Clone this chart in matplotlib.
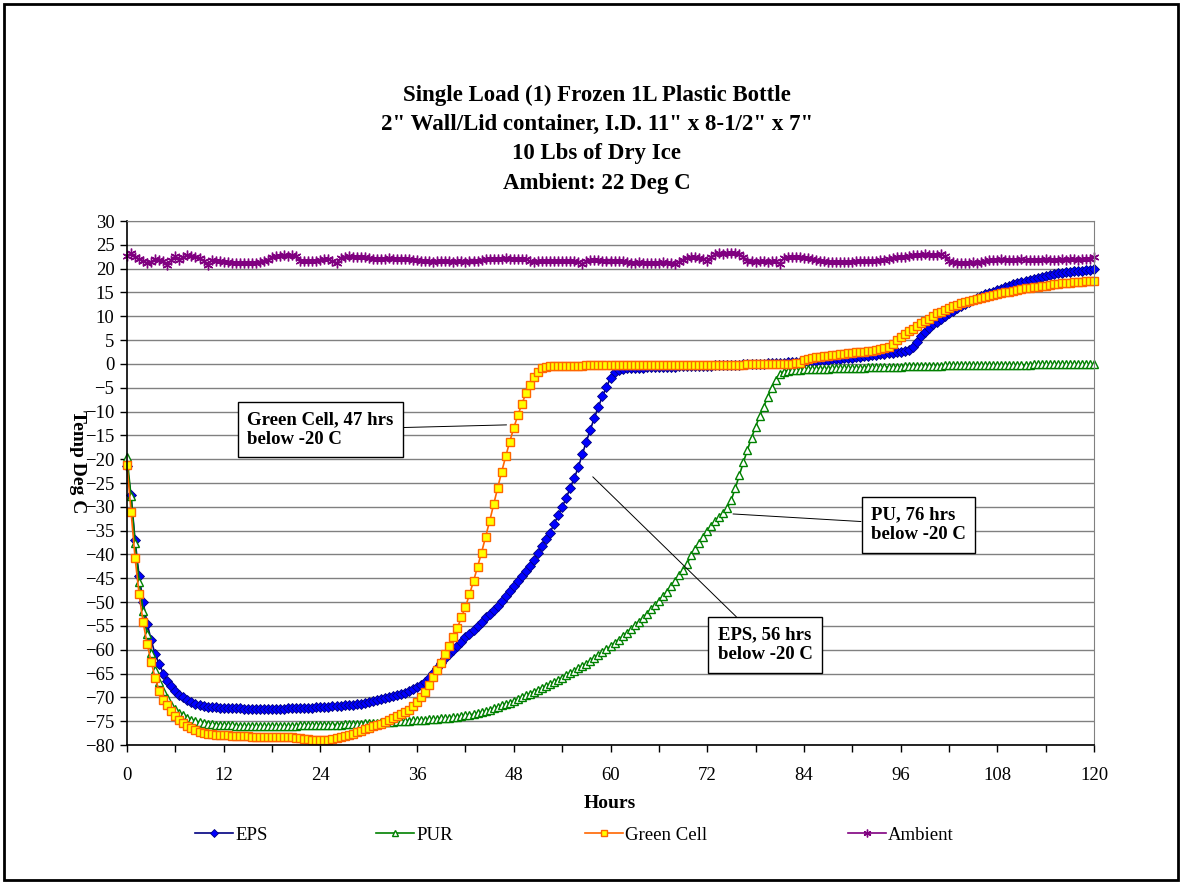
import matplotlib
matplotlib.use('Agg')
import matplotlib.pyplot as plt
import numpy as np
from matplotlib.patches import Rectangle

plt.rcParams['font.family'] = ['Liberation Serif', 'DejaVu Serif']

# readings every half hour, 0 .. 120 h
hours = np.arange(0, 120.5, 0.5)

eps = [
    -21.5, -27.5, -37.0, -44.5, -50.0, -54.5, -58.0, -61.0, -63.0, -65.0,
    -66.5, -67.7, -68.6, -69.4, -70.0, -70.5, -71.0, -71.3, -71.6, -71.8,
    -72.0, -72.1, -72.1, -72.2, -72.2, -72.3, -72.3, -72.3, -72.3, -72.4,
    -72.4, -72.4, -72.4, -72.5, -72.5, -72.4, -72.5, -72.4, -72.4, -72.4,
    -72.3, -72.3, -72.3, -72.3, -72.2, -72.2, -72.2, -72.1, -72.1, -72.0,
    -72.0, -71.9, -71.8, -71.8, -71.7, -71.6, -71.5, -71.4, -71.3, -71.2,
    -71.0, -70.8, -70.6, -70.4, -70.2, -70.0, -69.8, -69.6, -69.3, -69.0,
    -68.7, -68.3, -67.9, -67.4, -66.7, -65.9, -64.9, -63.9, -62.8, -61.8,
    -61.0, -60.1, -59.2, -58.3, -57.4, -56.6, -55.8, -55.0, -54.1, -53.2,
    -52.4, -51.6, -50.8, -49.8, -48.8, -47.7, -46.6, -45.6, -44.6, -43.5,
    -42.4, -41.2, -39.6, -38.2, -36.8, -35.4, -33.6, -31.8, -30.0, -28.2,
    -26.0, -24.0, -21.7, -19.0, -16.3, -13.8, -11.3, -9.0, -6.8, -4.8,
    -3.0, -1.8, -1.2, -1.0, -0.9, -0.9, -0.8, -0.8, -0.8, -0.7,
    -0.7, -0.7, -0.7, -0.6, -0.6, -0.6, -0.6, -0.5, -0.5, -0.5,
    -0.5, -0.5, -0.4, -0.4, -0.4, -0.4, -0.3, -0.3, -0.3, -0.3,
    -0.2, -0.2, -0.2, -0.1, -0.1, -0.1, 0.0, 0.0, 0.0, 0.1,
    0.1, 0.1, 0.2, 0.2, 0.3, 0.3, 0.4, 0.5, 0.5, 0.6,
    0.6, 0.7, 0.8, 0.8, 0.9, 1.0, 1.0, 1.1, 1.2, 1.2,
    1.3, 1.4, 1.5, 1.6, 1.7, 1.8, 1.9, 2.0, 2.1, 2.2,
    2.3, 2.4, 2.5, 2.7, 2.9, 3.6, 4.7, 5.8, 6.8, 7.6,
    8.3, 8.9, 9.5, 10.1, 10.7, 11.2, 11.7, 12.2, 12.6, 13.0,
    13.5, 13.9, 14.3, 14.6, 14.9, 15.2, 15.5, 15.8, 16.1, 16.4,
    16.7, 17.0, 17.2, 17.5, 17.7, 17.9, 18.1, 18.3, 18.5, 18.7,
    18.8, 19.0, 19.1, 19.2, 19.3, 19.4, 19.5, 19.6, 19.7, 19.8,
    19.9,
]

pur = [
    -19.5, -27.8, -37.7, -45.7, -51.8, -56.8, -60.7, -64.2, -66.7, -68.6,
    -70.2, -71.5, -72.5, -73.2, -73.8, -74.3, -74.7, -75.0, -75.2, -75.4,
    -75.5, -75.6, -75.7, -75.8, -75.8, -75.9, -75.9, -76.0, -76.0, -76.0,
    -76.0, -76.0, -76.1, -76.0, -76.1, -76.0, -76.0, -76.1, -76.0, -76.0,
    -76.0, -76.0, -76.0, -75.9, -75.9, -75.9, -75.9, -75.9, -75.8, -75.8,
    -75.8, -75.7, -75.7, -75.7, -75.6, -75.6, -75.5, -75.5, -75.5, -75.4,
    -75.4, -75.3, -75.3, -75.2, -75.2, -75.1, -75.1, -75.0, -75.0, -74.9,
    -74.9, -74.8, -74.8, -74.7, -74.7, -74.6, -74.6, -74.5, -74.4, -74.4,
    -74.3, -74.2, -74.1, -74.0, -73.8, -73.7, -73.5, -73.3, -73.1, -72.9,
    -72.6, -72.3, -72.0, -71.7, -71.4, -71.1, -70.8, -70.4, -70.0, -69.6,
    -69.2, -68.8, -68.4, -68.0, -67.6, -67.2, -66.8, -66.3, -65.9, -65.4,
    -64.9, -64.4, -63.9, -63.4, -62.9, -62.3, -61.7, -61.1, -60.5, -59.9,
    -59.3, -58.6, -57.9, -57.2, -56.5, -55.7, -54.9, -54.1, -53.3, -52.4,
    -51.5, -50.6, -49.7, -48.8, -47.8, -46.7, -45.6, -44.4, -43.2, -42.0,
    -40.2, -38.9, -37.6, -36.3, -35.1, -34.0, -33.0, -32.1, -31.2, -30.2,
    -28.5, -26.0, -23.3, -20.6, -18.0, -15.5, -13.2, -11.0, -9.0, -7.0,
    -5.0, -3.3, -2.1, -1.6, -1.4, -1.3, -1.2, -1.2, -1.1, -1.1,
    -1.1, -1.0, -1.0, -1.0, -1.0, -0.9, -0.9, -0.9, -0.9, -0.9,
    -0.8, -0.8, -0.8, -0.8, -0.7, -0.7, -0.7, -0.7, -0.7, -0.6,
    -0.6, -0.6, -0.6, -0.5, -0.5, -0.5, -0.5, -0.4, -0.4, -0.4,
    -0.4, -0.4, -0.4, -0.3, -0.3, -0.3, -0.3, -0.3, -0.3, -0.3,
    -0.3, -0.3, -0.3, -0.2, -0.2, -0.2, -0.2, -0.2, -0.2, -0.2,
    -0.2, -0.2, -0.2, -0.2, -0.2, -0.1, -0.1, -0.1, -0.1, -0.1,
    -0.1, -0.1, -0.1, -0.1, -0.1, -0.1, -0.1, -0.1, -0.1, -0.1,
    -0.1,
]

green_cell = [
    -21.2, -31.0, -40.7, -48.3, -54.2, -58.8, -62.5, -66.0, -68.6, -70.5,
    -71.6, -72.8, -74.0, -74.8, -75.4, -76.0, -76.5, -76.9, -77.2, -77.4,
    -77.6, -77.7, -77.8, -77.9, -78.0, -78.0, -78.1, -78.1, -78.2, -78.2,
    -78.2, -78.3, -78.3, -78.3, -78.3, -78.3, -78.3, -78.3, -78.3, -78.3,
    -78.4, -78.4, -78.5, -78.6, -78.7, -78.8, -78.9, -79.0, -79.0, -79.0,
    -78.9, -78.8, -78.6, -78.4, -78.1, -77.9, -77.6, -77.3, -77.0, -76.7,
    -76.4, -76.1, -75.8, -75.5, -75.1, -74.8, -74.4, -74.0, -73.5, -73.0,
    -72.6, -71.8, -71.0, -70.0, -68.8, -67.3, -65.8, -64.3, -62.7, -61.0,
    -59.2, -57.4, -55.4, -53.2, -51.0, -48.4, -45.6, -42.6, -39.6, -36.3,
    -33.0, -29.5, -26.0, -22.6, -19.4, -16.3, -13.4, -10.8, -8.4, -6.2,
    -4.4, -2.8, -1.6, -0.9, -0.6, -0.5, -0.5, -0.4, -0.4, -0.4,
    -0.4, -0.4, -0.4, -0.4, -0.3, -0.3, -0.3, -0.3, -0.3, -0.3,
    -0.3, -0.3, -0.3, -0.3, -0.3, -0.3, -0.3, -0.3, -0.2, -0.3,
    -0.3, -0.2, -0.2, -0.2, -0.2, -0.2, -0.2, -0.2, -0.2, -0.2,
    -0.2, -0.2, -0.2, -0.2, -0.2, -0.2, -0.2, -0.2, -0.2, -0.2,
    -0.2, -0.2, -0.2, -0.2, -0.1, -0.1, -0.1, -0.1, -0.1, -0.1,
    -0.1, -0.1, 0.0, 0.0, 0.0, 0.0, 0.1, 0.2, 0.8, 1.1,
    1.3, 1.4, 1.5, 1.6, 1.7, 1.8, 1.9, 2.0, 2.1, 2.2,
    2.3, 2.4, 2.5, 2.6, 2.7, 2.8, 3.0, 3.1, 3.3, 3.6,
    4.2, 5.0, 5.7, 6.3, 6.9, 7.4, 8.0, 8.5, 9.0, 9.5,
    10.1, 10.6, 11.0, 11.4, 11.8, 12.1, 12.4, 12.7, 13.0, 13.2,
    13.5, 13.7, 13.9, 14.1, 14.3, 14.5, 14.6, 14.8, 15.0, 15.2,
    15.4, 15.6, 15.7, 15.9, 16.0, 16.1, 16.2, 16.3, 16.4, 16.6,
    16.7, 16.8, 16.9, 16.9, 17.0, 17.1, 17.2, 17.2, 17.3, 17.3,
    17.4,
]

ambient = [
    22.7, 23.2, 22.4, 22.1, 21.7, 21.2, 21.3, 22.1, 21.9, 21.7,
    20.8, 21.8, 22.6, 21.9, 22.5, 22.8, 22.7, 22.5, 22.3, 21.6,
    20.7, 21.9, 21.7, 21.6, 21.4, 21.3, 21.2, 21.2, 21.2, 21.1,
    21.2, 21.2, 21.2, 21.3, 21.6, 21.9, 22.5, 22.7, 22.7, 22.8,
    22.7, 22.8, 22.6, 21.7, 21.6, 21.6, 21.7, 21.6, 21.8, 22.1,
    22.0, 21.6, 21.1, 22.2, 22.5, 22.6, 22.5, 22.4, 22.5, 22.4,
    22.2, 22.1, 22.1, 22.0, 22.1, 22.2, 22.1, 22.0, 22.1, 22.0,
    22.0, 21.9, 21.8, 21.6, 21.5, 21.5, 21.4, 21.5, 21.5, 21.6,
    21.5, 21.4, 21.5, 21.5, 21.4, 21.5, 21.6, 21.5, 21.8, 22.0,
    22.1, 22.1, 22.0, 22.1, 22.2, 22.1, 22.1, 22.0, 22.1, 22.0,
    21.6, 21.3, 21.5, 21.6, 21.6, 21.7, 21.6, 21.6, 21.5, 21.6,
    21.6, 21.5, 21.4, 21.0, 21.5, 21.8, 21.9, 21.8, 21.7, 21.7,
    21.6, 21.7, 21.6, 21.5, 21.4, 21.2, 21.2, 21.3, 21.2, 21.2,
    21.1, 21.2, 21.2, 21.3, 21.2, 21.1, 20.9, 21.4, 21.9, 22.3,
    22.4, 22.5, 22.3, 22.0, 21.6, 22.4, 23.0, 23.2, 23.1, 23.2,
    23.3, 23.2, 23.1, 22.4, 21.7, 21.5, 21.4, 21.5, 21.5, 21.4,
    21.5, 21.6, 20.9, 22.3, 22.4, 22.4, 22.5, 22.4, 22.3, 22.2,
    22.1, 21.9, 21.6, 21.5, 21.4, 21.4, 21.3, 21.4, 21.4, 21.3,
    21.4, 21.5, 21.5, 21.6, 21.6, 21.6, 21.7, 21.8, 21.9, 22.0,
    22.2, 22.4, 22.5, 22.4, 22.6, 22.9, 22.8, 22.9, 23.0, 22.9,
    22.8, 22.9, 23.0, 22.6, 21.6, 21.3, 21.2, 21.1, 21.2, 21.2,
    21.3, 21.2, 21.3, 21.5, 21.8, 21.9, 21.9, 22.0, 21.9, 21.8,
    21.9, 21.9, 22.0, 21.9, 21.9, 21.8, 21.9, 21.9, 22.0, 21.9,
    21.9, 21.9, 22.0, 21.9, 22.0, 22.0, 21.9, 22.0, 22.1, 22.1,
    22.5,
]

title_lines = [
    'Single Load (1) Frozen 1L Plastic Bottle',
    '2" Wall/Lid container, I.D. 11" x 8-1/2" x 7"',
    '10 Lbs of Dry Ice',
    'Ambient: 22 Deg C',
]

W, H = 1182, 884
fig = plt.figure(figsize=(W / 100, H / 100), dpi=100)
ax = fig.add_axes([127 / W, 139 / H, 967 / W, 524 / H])

h_eps, = ax.plot(hours, eps, color='#000080', lw=1.2, marker='D', ms=5,
                 mfc='#0000FF', mec='#000080', mew=0.6, clip_on=False)
h_pur, = ax.plot(hours, pur, color='#008000', lw=1.2, marker='^', ms=6,
                 mfc='white', mec='#008000', mew=1.0, clip_on=False)
h_gc, = ax.plot(hours, green_cell, color='#FF6600', lw=1.2, marker='s', ms=5.5,
                mfc='#FFFF00', mec='#FF6600', mew=1.0, clip_on=False)
h_amb, = ax.plot(hours, ambient, color='#800080', lw=1.2, marker=(6, 2, 0), ms=7,
                 mec='#800080', mew=1.0, clip_on=False)

ax.set_xlim(0, 120)
ax.set_ylim(-80, 30)
ax.set_yticks(range(-80, 31, 5))
xt = list(range(0, 121, 6))
ax.set_xticks(xt)
ax.set_xticklabels([str(h) if h % 12 == 0 else '' for h in xt])
ax.tick_params(axis='both', direction='out', length=5, width=1,
               labelsize=13.5, color='black')
ax.tick_params(axis='x', pad=11)
ax.tick_params(axis='y', pad=4)

ax.yaxis.grid(True, color='#808080', lw=1)
ax.set_axisbelow(True)
for side in ['top', 'right']:
    ax.spines[side].set_color('#808080')
for side in ['left', 'bottom']:
    ax.spines[side].set_color('black')
    ax.spines[side].set_linewidth(1.2)

# callout boxes
box = dict(boxstyle='square,pad=0.5', fc='white', ec='black', lw=1)
line = dict(arrowstyle='-', color='black', lw=0.7, shrinkA=0, shrinkB=0)
ax.annotate('Green Cell, 47 hrs\nbelow -20 C', xy=(47.1, -12.8), xytext=(24.0, -13.8),
            ha='center', va='center', multialignment='left', fontsize=13.5,
            fontweight='bold', bbox=box, arrowprops=line)
ax.annotate('PU, 76 hrs\nbelow -20 C', xy=(75.2, -31.5), xytext=(98.2, -33.8),
            ha='center', va='center', multialignment='left', fontsize=13.5,
            fontweight='bold', bbox=box, arrowprops=line)
ax.annotate('EPS, 56 hrs\nbelow -20 C', xy=(57.8, -23.7), xytext=(79.2, -59.0),
            ha='center', va='center', multialignment='left', fontsize=13.5,
            fontweight='bold', bbox=box, arrowprops=line)

for i, t in enumerate(title_lines):
    fig.text(597 / W, 1 - (95 + 29.5 * i) / H, t, ha='center', va='center',
             fontsize=16.5, fontweight='bold')

fig.text(610 / W, 1 - 803 / H, 'Hours', ha='center', va='center',
         fontsize=14, fontweight='bold')
fig.text(77 / W, 1 - 462 / H, 'Temp Deg C', ha='center', va='center',
         rotation=270, fontsize=14, fontweight='bold')

# legend entries placed one by one, like the spreadsheet legend
legend_items = [(h_eps, 'EPS', 195), (h_pur, 'PUR', 376),
                (h_gc, 'Green Cell', 585), (h_amb, 'Ambient', 848)]
for handle, label, x0 in legend_items:
    leg = fig.legend([handle], [label], loc='center left',
                     bbox_to_anchor=(x0 / W, 1 - 835 / H), frameon=False,
                     fontsize=13.5, handlelength=2.0, handletextpad=0.15,
                     borderpad=0, borderaxespad=0, markerscale=0.8)

fig.add_artist(Rectangle((4 / W, 4 / H), 1 - 8 / W, 1 - 8 / H,
                         transform=fig.transFigure, fill=False,
                         ec='black', lw=2))

fig.savefig('out.png', dpi=100)
